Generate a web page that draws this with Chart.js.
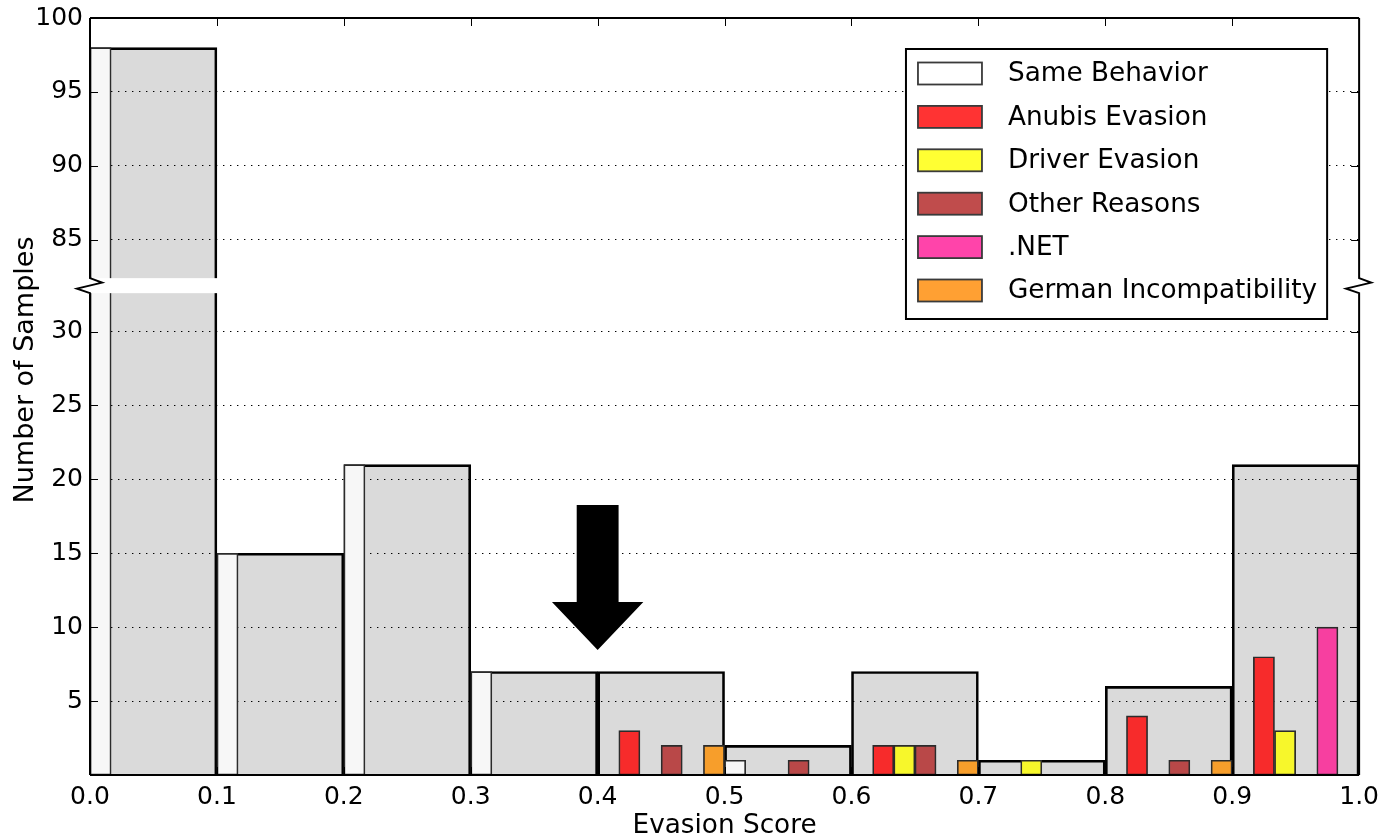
<!DOCTYPE html>
<html>
<head>
<meta charset="utf-8">
<script src="https://cdn.jsdelivr.net/npm/chart.js@4.4.1/dist/chart.umd.min.js"></script>
<style>
html,body{margin:0;padding:0;background:#fff;}
#wrap{width:1386px;height:839px;position:relative;}
</style>
</head>
<body>
<div id="wrap"><canvas id="c" width="1386" height="839"></canvas></div>
<script>
// ---------------- DATA ----------------
const bins = ['0.0–0.1','0.1–0.2','0.2–0.3','0.3–0.4','0.4–0.5','0.5–0.6','0.6–0.7','0.7–0.8','0.8–0.9','0.9–1.0'];
const allSamples            = [98, 15, 21, 7, 7, 2, 7, 1, 6, 21];
const sameBehavior          = [98, 15, 21, 7, 0, 1, 0, 0, 0, 0];
const anubisEvasion         = [0, 0, 0, 0, 3, 0, 2, 0, 4, 8];
const driverEvasion         = [0, 0, 0, 0, 0, 0, 2, 1, 0, 3];
const otherReasons          = [0, 0, 0, 0, 2, 1, 2, 0, 1, 0];
const dotNet                = [0, 0, 0, 0, 0, 0, 0, 0, 0, 10];
const germanIncompatibility = [0, 0, 0, 0, 2, 0, 1, 0, 1, 0];
const seriesNames = ['Same Behavior','Anubis Evasion','Driver Evasion','Other Reasons','.NET','German Incompatibility'];
const xTickValues = [0, 0.1, 0.2, 0.3, 0.4, 0.5, 0.6, 0.7, 0.8, 0.9, 1.0];
const xTickLabels = ['0.0','0.1','0.2','0.3','0.4','0.5','0.6','0.7','0.8','0.9','1.0'];
const yTickValues = [5, 10, 15, 20, 25, 30, 85, 90, 95, 100];
const yTickLabels = ['5','10','15','20','25','30','85','90','95','100'];
const xTitle = 'Evasion Score';
const yTitle = 'Number of Samples';

// ---------------- STYLE / LAYOUT ----------------
const AXIS_BREAK = {low: 32.6, high: 82.4, gapPx: 15};
const ARROW = {x: 0.4, yTop: 18.27, yHead: 11.7, yTip: 8.46, shaftHalf: 0.0165, headHalf: 0.036};
const barColors    = ['#f7f7f7', '#f72b2b', '#f7f72b', '#b94848', '#f73fa0', '#f79e2b'];
const legendColors = ['#ffffff', '#ff3333', '#ffff33', '#c04c4c', '#ff44aa', '#ffa033'];
const FONT = "'DejaVu Sans', 'Bitstream Vera Sans', sans-serif";

Chart.defaults.font.family = FONT;
Chart.defaults.color = '#000';

// Linear scale with a broken (cut) value range
class BrokenLinearScale extends Chart.LinearScale {
  _brokenOffset(value) {
    const {low, high, gapPx} = AXIS_BREAK;
    const min = this.min, max = this.max, len = this._length;
    const unit = (len - gapPx) / ((low - min) + (max - high));
    if (value <= low) return (value - min) * unit;
    if (value >= high) return (low - min) * unit + gapPx + (value - high) * unit;
    return (low - min) * unit + gapPx * (value - low) / (high - low);
  }
  getPixelForValue(value) {
    if (value === null || value === undefined || isNaN(value)) return NaN;
    return this.getPixelForDecimal(this._brokenOffset(value) / this._length);
  }
  getValueForPixel(pixel) {
    const {low, high, gapPx} = AXIS_BREAK;
    const min = this.min, max = this.max, len = this._length;
    const unit = (len - gapPx) / ((low - min) + (max - high));
    const off = this.getDecimalForPixel(pixel) * len;
    const lowPx = (low - min) * unit;
    if (off <= lowPx) return min + off / unit;
    if (off >= lowPx + gapPx) return high + (off - lowPx - gapPx) / unit;
    return low + (off - lowPx) / gapPx * (high - low);
  }
}
BrokenLinearScale.id = 'brokenLinear';
BrokenLinearScale.defaults = {};
Chart.register(BrokenLinearScale);

const seriesData = [sameBehavior, anubisEvasion, driverEvasion, otherReasons, dotNet, germanIncompatibility];
const toBars = arr => arr.map(v => (v === 0 ? null : v));

const datasets = seriesData.map((arr, i) => ({
  label: seriesNames[i],
  data: toBars(arr),
  backgroundColor: barColors[i],
  borderColor: '#2b2b2b',
  borderWidth: 1.7,
  inflateAmount: 0.33,
  borderSkipped: false,
  categoryPercentage: 1,
  barPercentage: 1,
  order: 0,
  xAxisID: 'x',
  yAxisID: 'y'
}));
datasets.push({
  label: 'All Samples',
  data: allSamples,
  backgroundColor: 'rgba(0,0,0,0.145)',
  borderColor: '#000',
  borderWidth: 2,
  inflateAmount: 0.33,
  borderSkipped: 'start',
  grouped: false,
  categoryPercentage: 1,
  barPercentage: 1,
  order: 1,
  xAxisID: 'x',
  yAxisID: 'y'
});

const decor = {
  id: 'decor',
  afterDatasetsDraw(chart) {
    const {ctx, chartArea: a, scales} = chart;
    const y = scales.y, xl = scales.xl;
    const gTop = y.getPixelForValue(AXIS_BREAK.high);
    const gBot = y.getPixelForValue(AXIS_BREAK.low);
    ctx.save();
    // gap of the broken axis
    ctx.fillStyle = '#fff';
    ctx.fillRect(a.left, gTop, a.right - a.left, gBot - gTop);

    // inward tick marks
    ctx.strokeStyle = '#000';
    ctx.lineWidth = 1;
    ctx.beginPath();
    yTickValues.forEach(v => {
      const p = Math.round(y.getPixelForValue(v)) + 0.5;
      ctx.moveTo(a.left, p); ctx.lineTo(a.left + 8, p);
      ctx.moveTo(a.right, p); ctx.lineTo(a.right - 8, p);
    });
    xTickValues.forEach(v => {
      const p = Math.round(xl.getPixelForValue(v)) + 0.5;
      ctx.moveTo(p, a.top); ctx.lineTo(p, a.top + 8);
      ctx.moveTo(p, a.bottom); ctx.lineTo(p, a.bottom - 8);
    });
    ctx.stroke();

    // frame with break marks
    ctx.lineWidth = 2;
    ctx.lineJoin = 'miter';
    ctx.beginPath();
    ctx.moveTo(a.left, a.top); ctx.lineTo(a.right, a.top);
    ctx.moveTo(a.left, a.bottom); ctx.lineTo(a.right, a.bottom);
    [a.left, a.right].forEach(x => {
      ctx.moveTo(x, a.top);
      ctx.lineTo(x, gTop);
      ctx.lineTo(x + 12, gTop + 4.5);
      ctx.lineTo(x - 13, gTop + 10.5);
      ctx.lineTo(x, gBot);
      ctx.lineTo(x, a.bottom);
    });
    ctx.stroke();

    // arrow annotation
    const cx = xl.getPixelForValue(ARROW.x);
    const sL = xl.getPixelForValue(ARROW.x - ARROW.shaftHalf), sR = xl.getPixelForValue(ARROW.x + ARROW.shaftHalf);
    const hL = xl.getPixelForValue(ARROW.x - ARROW.headHalf), hR = xl.getPixelForValue(ARROW.x + ARROW.headHalf);
    const yT = y.getPixelForValue(ARROW.yTop), yH = y.getPixelForValue(ARROW.yHead), yP = y.getPixelForValue(ARROW.yTip);
    ctx.fillStyle = '#000';
    ctx.beginPath();
    ctx.moveTo(sL, yT); ctx.lineTo(sR, yT); ctx.lineTo(sR, yH); ctx.lineTo(hR, yH);
    ctx.lineTo(cx, yP); ctx.lineTo(hL, yH); ctx.lineTo(sL, yH); ctx.closePath();
    ctx.fill();
    ctx.restore();
  },
  afterDraw(chart) {
    const {ctx, chartArea: a} = chart;
    ctx.save();
    // y-axis title
    ctx.font = '27px ' + FONT;
    ctx.fillStyle = '#000';
    ctx.textAlign = 'center';
    ctx.textBaseline = 'middle';
    ctx.translate(26, 370);
    ctx.rotate(-Math.PI / 2);
    ctx.fillText(yTitle, 0, 0);
    ctx.restore();

    // legend
    ctx.save();
    ctx.font = '26.3px ' + FONT;
    const items = chart.data.datasets.slice(0, seriesNames.length);
    const maxW = Math.max(...items.map(d => ctx.measureText(d.label).width));
    const padL = 12, padR = 10, patchW = 64, patchH = 22, gap = 26, rowH = 43.4;
    const boxW = padL + patchW + gap + maxW + padR;
    const boxH = 24 + rowH * (items.length - 1) + 29;
    const right = a.right - 32, top = a.top + 31;
    const left = right - boxW;
    ctx.fillStyle = '#fff';
    ctx.fillRect(left, top, boxW, boxH);
    ctx.strokeStyle = '#000';
    ctx.lineWidth = 2;
    ctx.strokeRect(left, top, boxW, boxH);
    items.forEach((d, i) => {
      const cy = top + 24.5 + i * rowH;
      ctx.fillStyle = legendColors[i];
      ctx.fillRect(left + padL, cy - patchH / 2, patchW, patchH);
      ctx.strokeStyle = '#3a3a3a';
      ctx.lineWidth = 1.8;
      ctx.strokeRect(left + padL, cy - patchH / 2, patchW, patchH);
      ctx.fillStyle = '#000';
      ctx.textAlign = 'left';
      ctx.textBaseline = 'middle';
      ctx.fillText(d.label, left + padL + patchW + gap, cy + 1);
    });
    ctx.restore();
  }
};

new Chart(document.getElementById('c'), {
  type: 'bar',
  data: {labels: bins, datasets},
  options: {
    responsive: false,
    animation: false,
    events: [],
    layout: {autoPadding: false, padding: {top: 18, right: 26, left: 0, bottom: 0}},
    plugins: {legend: {display: false}, tooltip: {enabled: false}},
    scales: {
      x: {type: 'category', display: false, offset: true},
      xl: {
        type: 'linear', axis: 'x', position: 'bottom', min: 0, max: 1, offset: false,
        grid: {display: false, drawTicks: false},
        border: {display: false},
        afterBuildTicks: s => { s.ticks = xTickValues.map(v => ({value: v})); },
        afterFit: s => { s.height = 64; },
        ticks: {
          autoSkip: false, maxRotation: 0, padding: 7,
          font: {size: 25}, color: '#000',
          callback: (v, i) => xTickLabels[i]
        },
        title: {display: true, text: xTitle, font: {size: 26.3, lineHeight: 1}, padding: 0, color: '#000'}
      },
      y: {
        type: 'brokenLinear', position: 'left', min: 0, max: 100,
        grid: {color: '#000', lineWidth: 1, drawTicks: false, tickLength: 0},
        border: {display: false, dash: [1.4, 5.6]},
        afterBuildTicks: s => { s.ticks = yTickValues.map(v => ({value: v})); },
        afterFit: s => { s.width = 90; },
        ticks: {
          autoSkip: false, padding: 7, font: {size: 25, lineHeight: 0.8}, color: '#000',
          callback: (v, i) => yTickLabels[i]
        }
      }
    }
  },
  plugins: [decor]
});
</script>
</body>
</html>
